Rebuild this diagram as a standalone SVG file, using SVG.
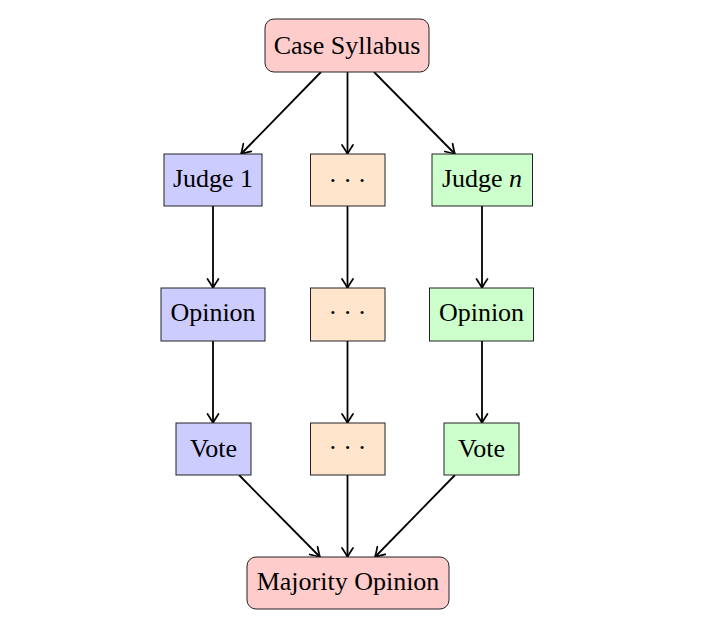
<svg xmlns="http://www.w3.org/2000/svg" width="726" height="621" viewBox="0 0 726 621">
<defs>
<style>
.n rect{stroke:#222;stroke-width:1}
.red{fill:#ffcccc}.blue{fill:#ccccff}.org{fill:#ffe5cc}.grn{fill:#ccffcc}
text{font-family:"Liberation Serif","Times New Roman",serif;font-size:26px;fill:#000;text-anchor:middle}
.d{letter-spacing:6px}
#edges path{fill:none;stroke:#000;stroke-width:1.8;marker-end:url(#ar)}
</style>
<marker id="ar" markerUnits="userSpaceOnUse" viewBox="-12 -7 14 14" refX="0" refY="0" markerWidth="14" markerHeight="14" orient="auto">
<path d="M-9,-5.5 Q-3,-1.5 0,0 Q-3,1.5 -9,5.5" fill="none" stroke="#000" stroke-width="1.7" stroke-linecap="round"/>
</marker>
</defs>
<rect width="726" height="621" fill="#fff"/>
<g id="edges">
<path d="M321,72 L241,154"/>
<path d="M347.5,72 L347.5,154"/>
<path d="M374,72 L455,154"/>
<path d="M213,206 L213,288"/>
<path d="M347.5,206 L347.5,288"/>
<path d="M482,206 L482,288"/>
<path d="M213,341 L213,423"/>
<path d="M347.5,341 L347.5,423"/>
<path d="M482,341 L482,423"/>
<path d="M239,475 L320,557"/>
<path d="M347.5,475 L347.5,557"/>
<path d="M455,475 L375,557"/>
</g>
<g id="case" class="n"><rect class="red" x="265" y="19" width="164" height="53" rx="9"/><text x="347" y="54">Case Syllabus</text></g>
<g id="judge1" class="n"><rect class="blue" x="164" y="154" width="98" height="52"/><text x="213" y="187">Judge 1</text></g>
<g id="dots1" class="n"><rect class="org" x="310.5" y="154" width="74.5" height="52"/><text class="d" x="350.5" y="188.5">···</text></g>
<g id="judgen" class="n"><rect class="grn" x="432" y="154" width="100.5" height="52"/><text x="482" y="187">Judge <tspan font-style="italic">n</tspan></text></g>
<g id="opinion1" class="n"><rect class="blue" x="161" y="288" width="104" height="53"/><text x="213" y="321">Opinion</text></g>
<g id="dots2" class="n"><rect class="org" x="310.5" y="288" width="74.5" height="53"/><text class="d" x="350.5" y="321">···</text></g>
<g id="opinionn" class="n"><rect class="grn" x="429.5" y="288" width="104" height="53"/><text x="481.5" y="321">Opinion</text></g>
<g id="vote1" class="n"><rect class="blue" x="176" y="423" width="75" height="52"/><text x="213.5" y="457">Vote</text></g>
<g id="dots3" class="n"><rect class="org" x="310.5" y="423" width="74.5" height="52"/><text class="d" x="350.5" y="456">···</text></g>
<g id="voten" class="n"><rect class="grn" x="444" y="423" width="75" height="52"/><text x="481.5" y="457">Vote</text></g>
<g id="majority" class="n"><rect class="red" x="247" y="557" width="202" height="52" rx="9"/><text x="348" y="590">Majority Opinion</text></g>
</svg>
